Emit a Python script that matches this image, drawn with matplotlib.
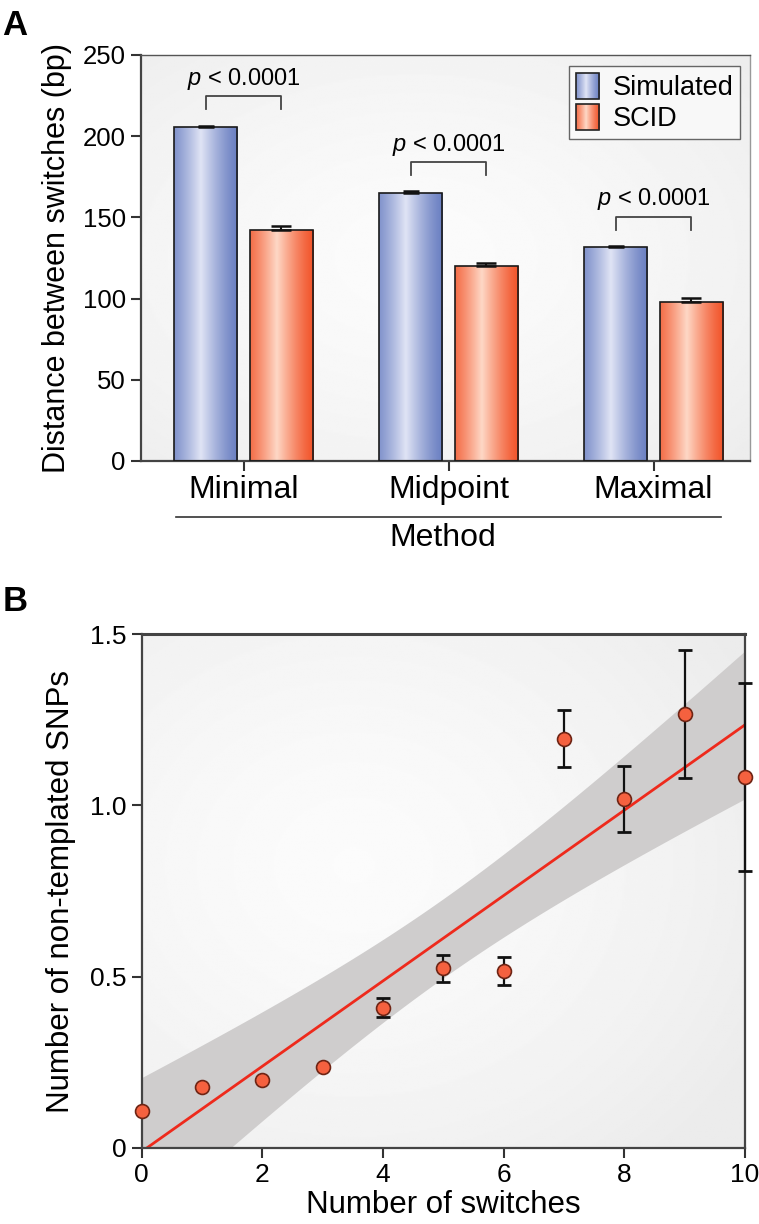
import numpy as np
import matplotlib
matplotlib.use("Agg")
import matplotlib.pyplot as plt
from matplotlib.patches import Rectangle
from matplotlib.image import BboxImage
from matplotlib.transforms import Bbox, TransformedBbox
from matplotlib.legend_handler import HandlerBase

plt.rcParams['font.family'] = ['Liberation Sans', 'DejaVu Sans']
plt.rcParams['mathtext.fontset'] = 'custom'
plt.rcParams['mathtext.it'] = 'Liberation Sans:italic'
plt.rcParams['mathtext.rm'] = 'Liberation Sans'

# ---- panel A data ----
methods = ['Minimal', 'Midpoint', 'Maximal']
simulated = [205.5, 165.0, 131.5]
simulated_err = [1.0, 1.0, 1.0]
scid = [142.0, 120.0, 98.0]
scid_err = [2.5, 2.0, 2.5]
p_text = '$p$ < 0.0001'

# ---- panel B data ----
switches = np.array([0, 1, 2, 3, 4, 5, 6, 7, 8, 9, 10])
snps = np.array([0.109, 0.179, 0.198, 0.237, 0.410, 0.524, 0.516, 1.194, 1.018, 1.267, 1.083])
snps_err = np.array([0.0, 0.0, 0.0, 0.0, 0.028, 0.040, 0.040, 0.083, 0.096, 0.186, 0.275])

BLUE = ('#6b80c2', '#e0e4f5')
ORANGE = ('#f2552b', '#fed8c6')


def gradient_image(edge, center):
    u = np.linspace(0, 1, 128)
    w = np.clip(1 - np.abs(u - 0.42) / 0.58, 0, 1) ** 1.3
    edge = np.array(matplotlib.colors.to_rgb(edge))
    center = np.array(matplotlib.colors.to_rgb(center))
    img = edge[None, :] + (center - edge)[None, :] * w[:, None]
    return img[None, :, :]


def add_background(ax, cx=0.45, cy=0.5):
    yy, xx = np.mgrid[0:1:300j, 0:1:300j]
    r = np.hypot(xx - cx, yy - cy)
    shade = 0.985 - 0.06 * np.clip(r / 0.75, 0, 1) ** 1.5
    ax.imshow(shade, cmap='gray', vmin=0, vmax=1, extent=(0, 1, 0, 1),
              transform=ax.transAxes, origin='lower', aspect='auto', zorder=0)


def gradient_fill(ax, bars, colors):
    img = gradient_image(*colors)
    for b in bars:
        x0, y0 = b.get_x(), b.get_y()
        im = ax.imshow(img, extent=(x0, x0 + b.get_width(), y0, y0 + b.get_height()),
                       aspect='auto', zorder=2, interpolation='bilinear')
        im.set_clip_path(b)


class HandlerGradient(HandlerBase):
    def create_artists(self, legend, orig_handle, xdescent, ydescent,
                       width, height, fontsize, trans):
        bb = TransformedBbox(Bbox.from_bounds(-xdescent, -ydescent, width, height), trans)
        im = BboxImage(bb, interpolation='bilinear')
        im.set_data(gradient_image(*orig_handle))
        rect = Rectangle((-xdescent, -ydescent), width, height, facecolor='none',
                         edgecolor='#222222', linewidth=1.2, transform=trans)
        return [im, rect]


fig = plt.figure(figsize=(7.59, 12.24), dpi=100)

# ================= Panel A =================
axA = fig.add_axes([0.1858, 0.6234, 0.8022, 0.3317])
add_background(axA)
x = np.arange(len(methods))
w = 0.31
off = 0.185
bs = axA.bar(x - off, simulated, w, facecolor='none', edgecolor='#1a1a1a', linewidth=1.2, zorder=3)
bc = axA.bar(x + off, scid, w, facecolor='none', edgecolor='#1a1a1a', linewidth=1.2, zorder=3)
gradient_fill(axA, bs, BLUE)
gradient_fill(axA, bc, ORANGE)
axA.errorbar(x - off, simulated, yerr=[np.zeros(3), simulated_err], fmt='none',
             ecolor='#111111', elinewidth=1.5, capsize=6, capthick=1.8, zorder=4)
axA.errorbar(x + off, scid, yerr=[np.zeros(3), scid_err], fmt='none',
             ecolor='#111111', elinewidth=1.5, capsize=7, capthick=1.8, zorder=4)

for i in range(len(methods)):
    top = max(simulated[i] + simulated_err[i], scid[i] + scid_err[i]) + 18
    axA.plot([x[i] - off, x[i] - off, x[i] + off, x[i] + off],
             [top - 8, top, top, top - 8], color='#444444', lw=1.3, zorder=4)
    axA.text(x[i], top + 2.5, p_text, ha='center', va='bottom', fontsize=17, zorder=5)

axA.set_xlim(-0.5, 2.47)
axA.set_ylim(0, 250)
axA.set_yticks([0, 50, 100, 150, 200, 250])
axA.set_xticks(x)
axA.set_xticklabels(methods, fontsize=23)
axA.tick_params(axis='y', labelsize=18.5)
axA.tick_params(direction='out', length=7, width=1.5, color='#333333', pad=4)
axA.tick_params(axis='x', pad=3)
axA.set_ylabel('Distance between switches (bp)', fontsize=22, labelpad=8)
for s in ['left', 'bottom']:
    axA.spines[s].set_color('#444444')
    axA.spines[s].set_linewidth(1.6)
axA.spines['top'].set_color('#555555')
axA.spines['top'].set_linewidth(1.0)
axA.spines['right'].set_color('#999999')
axA.spines['right'].set_linewidth(1.0)

axA.plot([-0.33, 2.33], [-0.138, -0.138], transform=axA.get_xaxis_transform(),
         color='#333333', lw=1.2, clip_on=False)
axA.text(0.97, -0.19, 'Method', transform=axA.get_xaxis_transform(),
         ha='center', va='center', fontsize=23)

leg = axA.legend([BLUE, ORANGE], ['Simulated', 'SCID'],
                 handler_map={tuple: HandlerGradient()},
                 loc='upper right', bbox_to_anchor=(0.997, 0.992),
                 fontsize=19.5, fancybox=False, framealpha=1, edgecolor='#666666',
                 handlelength=0.85, handleheight=1.1, handletextpad=0.5,
                 borderpad=0.25, labelspacing=0.1, borderaxespad=0.3)
leg.get_frame().set_linewidth(1.0)
leg.get_frame().set_facecolor('#f8f8f8')

fig.text(0.003, 0.993, 'A', fontsize=25, fontweight='bold', va='top', ha='left')

# ================= Panel B =================
axB = fig.add_axes([0.1867, 0.0621, 0.7949, 0.4199])
add_background(axB, 0.35, 0.55)

slope, intercept = np.polyfit(switches, snps, 1)
n = len(switches)
resid = snps - (slope * switches + intercept)
s = np.sqrt(np.sum(resid ** 2) / (n - 2))
sxx = np.sum((switches - switches.mean()) ** 2)
xs = np.linspace(0, 10, 200)
fit = slope * xs + intercept
half = 2.262 * s * np.sqrt(1 / n + (xs - switches.mean()) ** 2 / sxx)
axB.fill_between(xs, fit - half, fit + half, color='#cfcdcd', lw=0, zorder=1)
axB.plot(xs, fit, color='#ee2a1c', lw=2.0, zorder=2)

has_err = snps_err > 0
axB.errorbar(switches[has_err], snps[has_err], yerr=snps_err[has_err],
             fmt='none', ecolor='#111111', elinewidth=1.6, capsize=5, capthick=2.0,
             zorder=3, clip_on=False)
axB.plot(switches, snps, 'o', ms=10, mfc='#f5613f', mec='#6e2414', mew=1.2,
         zorder=4, clip_on=False)

axB.set_xlim(0, 10)
axB.set_ylim(0, 1.5)
axB.set_xticks([0, 2, 4, 6, 8, 10])
axB.set_yticks([0, 0.5, 1.0, 1.5])
axB.set_yticklabels(['0', '0.5', '1.0', '1.5'])
axB.tick_params(direction='out', length=7, width=1.5, color='#333333', labelsize=19, pad=4)
axB.set_xlabel('Number of switches', fontsize=22.5, labelpad=2)
axB.set_ylabel('Number of non-templated SNPs', fontsize=22.5, labelpad=10)
for sp in ['left', 'bottom', 'right']:
    axB.spines[sp].set_color('#444444')
    axB.spines[sp].set_linewidth(1.6)
axB.spines['top'].set_color('#444444')
axB.spines['top'].set_linewidth(2.2)

fig.text(0.003, 0.522, 'B', fontsize=25, fontweight='bold', va='top', ha='left')

fig.savefig('out.png', dpi=100)
